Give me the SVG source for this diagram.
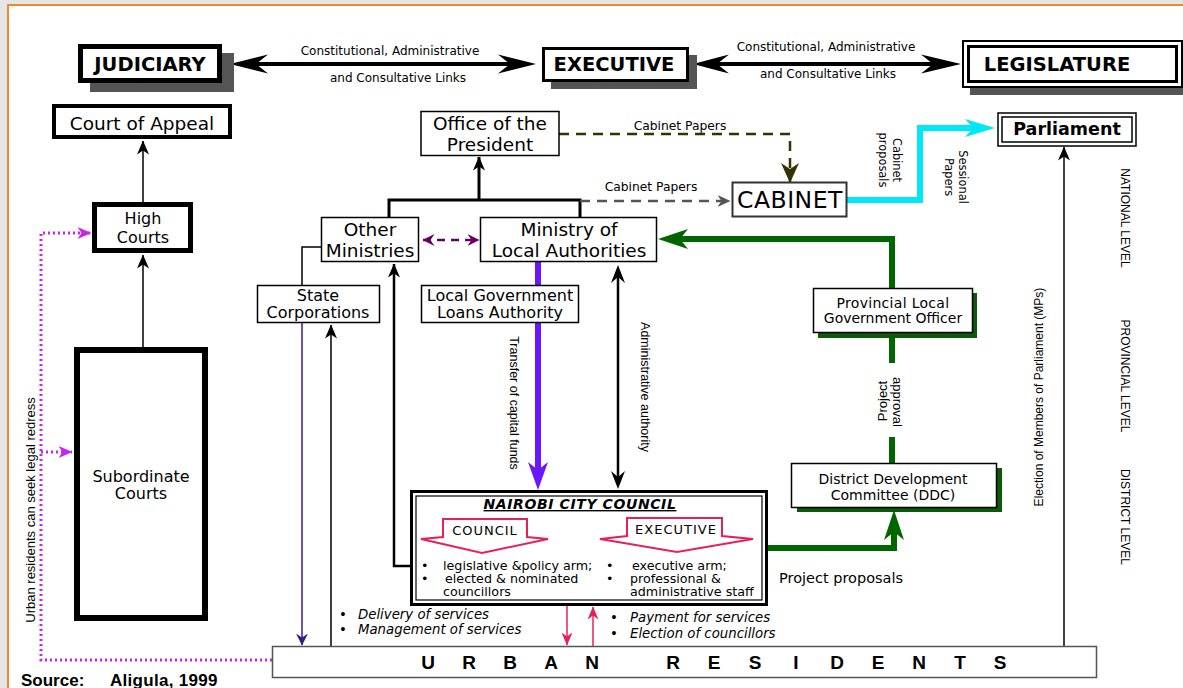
<svg xmlns="http://www.w3.org/2000/svg" width="1183" height="688" viewBox="0 0 1183 688">
<style>
text{font-family:"DejaVu Sans","Liberation Sans",sans-serif;fill:#000}
.lib{font-family:"Liberation Sans",Arial,sans-serif}
.box{fill:#fff;stroke:#000;stroke-width:1.5}
.shadow{fill:#555}
.gshadow{fill:#0a5a0a}
.a{font-size:18.5px;text-anchor:middle}
.b{font-size:16px;text-anchor:middle}
.c{font-size:14px;text-anchor:middle}
.title{font-size:19.5px;font-weight:bold;text-anchor:middle}
.lbl{font-size:12px;text-anchor:middle}
.rot{font-family:"Liberation Sans",Arial,sans-serif;font-size:12.5px;text-anchor:middle}
.it{font-style:italic;font-size:13.3px}
.nb{font-size:12.7px}
.red{fill:#fff;stroke:#e8205a;stroke-width:2}
</style>
<defs>
<marker id="aBlk" viewBox="0 0 14 12" refX="13.5" refY="6" markerWidth="14" markerHeight="12" orient="auto-start-reverse" markerUnits="userSpaceOnUse"><path d="M0,0 L14,6 L0,12 L4,6 Z" fill="#000"/></marker>
<marker id="aBlk2" viewBox="0 0 18 14" refX="6" refY="7" markerWidth="18" markerHeight="14" orient="auto-start-reverse" markerUnits="userSpaceOnUse"><path d="M0,0 L18,7 L0,14 L6,7 Z" fill="#000"/></marker>
<marker id="aOlive" viewBox="0 0 20 18" refX="19" refY="9" markerWidth="20" markerHeight="18" orient="auto" markerUnits="userSpaceOnUse"><path d="M0,0 L20,9 L0,18 L6,9 Z" fill="#333300"/></marker>
<marker id="aGray" viewBox="0 0 13 12" refX="12.5" refY="6" markerWidth="13" markerHeight="12" orient="auto" markerUnits="userSpaceOnUse"><path d="M0,0 L13,6 L0,12 L4,6 Z" fill="#555"/></marker>
<marker id="aCyan" viewBox="0 0 30 18" refX="8" refY="9" markerWidth="30" markerHeight="18" orient="auto" markerUnits="userSpaceOnUse"><path d="M0,0 L30,9 L0,18 L8,9 Z" fill="#00e8f8"/></marker>
<marker id="aGreen" viewBox="0 0 30 20" refX="8" refY="10" markerWidth="30" markerHeight="20" orient="auto" markerUnits="userSpaceOnUse"><path d="M0,0 L30,10 L0,20 L8,10 Z" fill="#006600"/></marker>
<marker id="aBlue" viewBox="0 0 28 20" refX="8" refY="10" markerWidth="28" markerHeight="20" orient="auto" markerUnits="userSpaceOnUse"><path d="M0,0 L28,10 L0,20 L8,10 Z" fill="#6a17ff"/></marker>
<marker id="aPurp" viewBox="0 0 12 12" refX="11.5" refY="6" markerWidth="12" markerHeight="12" orient="auto-start-reverse" markerUnits="userSpaceOnUse"><path d="M0,0 L12,6 L0,12 L4,6 Z" fill="#660066"/></marker>
<marker id="aMag" viewBox="0 0 14 12" refX="13.5" refY="6" markerWidth="14" markerHeight="12" orient="auto" markerUnits="userSpaceOnUse"><path d="M0,0 L14,6 L0,12 L4,6 Z" fill="#cc22ee"/></marker>
<marker id="aRed" viewBox="0 0 13 11" refX="12.5" refY="5.5" markerWidth="13" markerHeight="11" orient="auto-start-reverse" markerUnits="userSpaceOnUse"><path d="M0,0 L13,5.5 L0,11 L4,5.5 Z" fill="#e8205a"/></marker>
<marker id="aDkBlue" viewBox="0 0 12 12" refX="11.5" refY="6" markerWidth="12" markerHeight="12" orient="auto" markerUnits="userSpaceOnUse"><path d="M0,0 L12,6 L0,12 L4,6 Z" fill="#3a1a8a"/></marker>
</defs>

<rect x="0" y="0" width="1183" height="688" fill="#e6e6e6"/>
<rect x="8" y="5" width="1190" height="700" fill="#fff" stroke="#f0882e" stroke-width="2"/>

<g id="connectors" fill="none">
  <line x1="255" y1="64" x2="510" y2="64" stroke="#000" stroke-width="4"/>
  <polygon points="230,64 268,54.5 256,64 268,73.5" fill="#000"/>
  <polygon points="536,64 498,54.5 510,64 498,73.5" fill="#000"/>
  <line x1="715" y1="64" x2="935" y2="64" stroke="#000" stroke-width="4"/>
  <polygon points="693,64 729,54.5 717,64 729,73.5" fill="#000"/>
  <polygon points="961,64 921,54.5 933,64 921,73.5" fill="#000"/>
  <line x1="143" y1="202" x2="143" y2="141" stroke="#000" stroke-width="1.5" marker-end="url(#aBlk)"/>
  <line x1="143" y1="347" x2="143" y2="255" stroke="#000" stroke-width="1.5" marker-end="url(#aBlk)"/>
  <path d="M272,660 H41 V233 H91" stroke="#cc22ee" stroke-width="3" stroke-dasharray="2,3" marker-end="url(#aMag)"/>
  <path d="M41,452 H72" stroke="#cc22ee" stroke-width="3" stroke-dasharray="2,3" marker-end="url(#aMag)"/>
  <path d="M389,217 V200 H580 V217" stroke="#000" stroke-width="3"/>
  <line x1="479" y1="200" x2="479" y2="157" stroke="#000" stroke-width="3" marker-end="url(#aBlk)"/>
  <path d="M559,134 H790 V182" stroke="#333300" stroke-width="2.5" stroke-dasharray="10,7" marker-end="url(#aOlive)"/>
  <path d="M580,201 H730" stroke="#555" stroke-width="2.5" stroke-dasharray="10,7" marker-end="url(#aGray)"/>
  <path d="M847,200 H920 V128 H973" stroke="#00e8f8" stroke-width="6" marker-end="url(#aCyan)"/>
  <line x1="1064" y1="646" x2="1064" y2="147" stroke="#000" stroke-width="1.5" marker-end="url(#aBlk)"/>
  <line x1="423" y1="240" x2="479" y2="240" stroke="#660066" stroke-width="2.5" stroke-dasharray="8,6" marker-start="url(#aPurp)" marker-end="url(#aPurp)"/>
  <path d="M892,288 V239 H680" stroke="#006600" stroke-width="6" marker-end="url(#aGreen)"/>
  <path d="M322,247 H302 V285" stroke="#000" stroke-width="1.5"/>
  <line x1="302" y1="322" x2="302" y2="645" stroke="#3a1a8a" stroke-width="1.5" marker-end="url(#aDkBlue)"/>
  <line x1="331" y1="646" x2="331" y2="325" stroke="#000" stroke-width="1.5" marker-end="url(#aBlk)"/>
  <path d="M410,566 H394 V264" stroke="#000" stroke-width="2.5" marker-end="url(#aBlk)"/>
  <line x1="538" y1="262" x2="538" y2="470" stroke="#6a17ff" stroke-width="6" marker-end="url(#aBlue)"/>
  <line x1="618" y1="277" x2="618" y2="477" stroke="#000" stroke-width="2.5" marker-start="url(#aBlk2)" marker-end="url(#aBlk2)"/>
  <line x1="892" y1="333" x2="892" y2="363" stroke="#006600" stroke-width="6"/>
  <line x1="892" y1="437" x2="892" y2="463" stroke="#006600" stroke-width="6"/>
  <path d="M768,548 H894 V532" stroke="#006600" stroke-width="6" marker-end="url(#aGreen)"/>
  <line x1="567" y1="606" x2="567" y2="645" stroke="#e8205a" stroke-width="1.5" marker-end="url(#aRed)"/>
  <line x1="593" y1="646" x2="593" y2="607" stroke="#e8205a" stroke-width="1.5" marker-end="url(#aRed)"/>
  <line x1="530" y1="528" x2="622" y2="528" stroke="#e8205a" stroke-width="2.5" stroke-dasharray="9,7" marker-start="url(#aRed)" marker-end="url(#aRed)"/>

  <text class="lbl" x="390" y="55">Constitutional, Administrative</text>
  <text class="lbl" x="398" y="82">and Consultative Links</text>
  <text class="lbl" x="826" y="51">Constitutional, Administrative</text>
  <text class="lbl" x="828" y="78">and Consultative Links</text>
  <text class="lbl" x="680" y="130" style="font-size:12.3px">Cabinet Papers</text>
  <text class="lbl" x="651" y="191" style="font-size:12.3px">Cabinet Papers</text>
  <text class="lbl" style="font-size:11.4px" transform="translate(893,160) rotate(90)"><tspan x="0" y="0">Cabinet</tspan><tspan x="0" y="14">proposals</tspan></text>
  <text class="lbl" style="font-size:11.4px" transform="translate(959,177) rotate(90)"><tspan x="0" y="0">Sessional</tspan><tspan x="0" y="14">Papers</tspan></text>
  <text class="rot" style="font-size:13px" transform="translate(35,510) rotate(-90)">Urban residents can seek legal redress</text>
  <text class="rot" style="font-size:12px" transform="translate(1043,397) rotate(-90)">Election of Members of Parliament (MPs)</text>
  <text class="rot" transform="translate(510,403) rotate(90)">Transfer of capital funds</text>
  <text class="rot" transform="translate(641,387) rotate(90)">Administrative authority</text>
  <text class="rot" style="font-size:13px" transform="translate(887,401) rotate(-90)">Project</text>
  <text class="rot" style="font-size:13px" transform="translate(893,402) rotate(90)">approval</text>
  <text x="779" y="583" style="font-size:14.5px">Project proposals</text>
  <text class="it" x="339" y="619">•<tspan x="358">Delivery of services</tspan></text>
  <text class="it" x="339" y="634">•<tspan x="358">Management of services</tspan></text>
  <text class="it" x="610" y="622">•<tspan x="630">Payment for services</tspan></text>
  <text class="it" x="610" y="638">•<tspan x="630">Election of councillors</tspan></text>
</g>

<g id="judiciary">
  <rect x="90" y="53" width="144" height="39" class="shadow"/>
  <rect x="80.5" y="46.5" width="139" height="34" fill="#fff" stroke="#000" stroke-width="5"/>
  <text class="title" x="150" y="70.5">JUDICIARY</text>
</g>
<g id="executive">
  <rect x="551" y="55" width="146" height="34" class="shadow"/>
  <rect x="543.5" y="48.5" width="144" height="32" fill="#fff" stroke="#000" stroke-width="3"/>
  <text class="title" x="614" y="70.5">EXECUTIVE</text>
</g>
<g id="legislature">
  <rect x="970" y="48" width="213" height="47" class="shadow"/>
  <rect x="963" y="41" width="219" height="46" fill="#fff" stroke="#000" stroke-width="2"/>
  <rect x="968.5" y="46.5" width="208" height="35" fill="none" stroke="#000" stroke-width="3"/>
  <text class="title" x="1057" y="70.5">LEGISLATURE</text>
</g>
<g id="court-of-appeal">
  <rect x="54" y="106" width="176" height="31" fill="#fff" stroke="#000" stroke-width="4"/>
  <text class="a" x="142" y="130">Court of Appeal</text>
</g>
<g id="high-courts">
  <rect x="94.5" y="204.5" width="96" height="46" fill="#fff" stroke="#000" stroke-width="5"/>
  <text class="b" x="143" y="224">High</text>
  <text class="b" x="143" y="243">Courts</text>
</g>
<g id="subordinate-courts">
  <rect x="77" y="350" width="128" height="268" fill="#fff" stroke="#000" stroke-width="6"/>
  <text class="b" x="141" y="482">Subordinate</text>
  <text class="b" x="141" y="499">Courts</text>
</g>
<g id="office-of-the-president">
  <rect x="421" y="111.5" width="138" height="44" class="box"/>
  <text class="a" x="490" y="130">Office of the</text>
  <text class="a" x="490" y="151">President</text>
</g>
<g id="cabinet">
  <rect x="732.5" y="182.5" width="114" height="34" fill="#fff" stroke="#333" stroke-width="2"/>
  <text x="790" y="208" style="font-size:23.5px;letter-spacing:0.5px;text-anchor:middle">CABINET</text>
</g>
<g id="parliament">
  <rect x="998" y="113" width="138" height="33" fill="#fff" stroke="#000" stroke-width="1.5"/>
  <rect x="1002" y="117" width="130" height="25" fill="none" stroke="#000" stroke-width="1.5"/>
  <text x="1067" y="135" style="font-size:17.5px;font-weight:bold;text-anchor:middle">Parliament</text>
</g>
<g id="other-ministries">
  <rect x="321.5" y="217.5" width="97" height="44" class="box"/>
  <text class="a" x="370" y="236">Other</text>
  <text class="a" x="370" y="257">Ministries</text>
</g>
<g id="ministry-of-local-authorities">
  <rect x="480.5" y="217.5" width="176" height="44" class="box"/>
  <text class="a" x="569" y="236">Ministry of</text>
  <text class="a" x="569" y="257">Local Authorities</text>
</g>
<g id="state-corporations">
  <rect x="257.5" y="285.5" width="122" height="37" class="box"/>
  <text class="b" x="318" y="301">State</text>
  <text class="b" x="318" y="318">Corporations</text>
</g>
<g id="loans-authority">
  <rect x="421.5" y="285.5" width="157" height="37" class="box"/>
  <text class="b" x="500" y="301">Local Government</text>
  <text class="b" x="500" y="318">Loans Authority</text>
</g>
<g id="provincial-officer">
  <rect x="818" y="293" width="159" height="45" class="gshadow"/>
  <rect x="813.5" y="288.5" width="159" height="44" class="box"/>
  <text class="c" x="893" y="308" style="letter-spacing:0.3px">Provincial Local</text>
  <text class="c" x="893" y="323">Government Officer</text>
</g>
<g id="ddc">
  <rect x="797" y="468" width="205" height="44" class="gshadow"/>
  <rect x="791.5" y="463.5" width="205" height="44" class="box"/>
  <text class="c" x="893" y="484">District Development</text>
  <text class="c" x="893" y="500">Committee (DDC)</text>
</g>
<g id="nairobi-city-council">
  <rect x="411.5" y="491.5" width="355" height="113" fill="#fff" stroke="#000" stroke-width="3"/>
  <rect x="416" y="496" width="346" height="104" fill="none" stroke="#000" stroke-width="1.2"/>
  <text x="580" y="509" style="font-size:14px;font-weight:bold;font-style:italic;letter-spacing:0.6px;text-anchor:middle;text-decoration:underline">NAIROBI CITY COUNCIL</text>
  <polygon class="red" points="443,519 527,519 527,537 548,539 482,553 421,539 443,537"/>
  <text x="485" y="535" style="font-size:13px;letter-spacing:1px;text-anchor:middle">COUNCIL</text>
  <polygon class="red" points="627,518 722,518 722,536 753,539 677,552 600,539 627,536"/>
  <text x="676" y="534" style="font-size:13px;letter-spacing:1px;text-anchor:middle">EXECUTIVE</text>
  <text class="nb" x="421" y="570">•</text>
  <text class="nb" x="443" y="570">legislative &amp;policy arm;</text>
  <text class="nb" x="421" y="583">•</text>
  <text class="nb" x="445" y="583">elected &amp; nominated</text>
  <text class="nb" x="443" y="596">councillors</text>
  <text class="nb" x="606" y="570">•</text>
  <text class="nb" x="632" y="570">executive arm;</text>
  <text class="nb" x="606" y="583">•</text>
  <text class="nb" x="630" y="583">professional  &amp;</text>
  <text class="nb" x="630" y="596">administrative staff</text>
</g>
<g id="urban-residents">
  <rect x="272.5" y="646.5" width="824" height="31" fill="#fff" stroke="#555" stroke-width="1.5"/>
  <text class="lib" x="428 469 510 551 592 673 714 755 796 837 878 919 960 1000" y="669" style="font-size:19px;font-weight:bold;text-anchor:middle">URBANRESIDENTS</text>
</g>
<g id="levels">
  <text class="rot" style="font-size:12px" transform="translate(1121,218) rotate(90)">NATIONAL LEVEL</text>
  <text class="rot" style="font-size:12px" transform="translate(1121,376) rotate(90)">PROVINCIAL LEVEL</text>
  <text class="rot" style="font-size:12px" transform="translate(1121,517) rotate(90)">DISTRICT LEVEL</text>
</g>
<g id="source">
  <text class="lib" x="21" y="686" style="font-size:17px;font-weight:bold">Source:</text>
  <text class="lib" x="110" y="686" style="font-size:17px;font-weight:bold;letter-spacing:0.3px">Aligula, 1999</text>
</g>
</svg>
